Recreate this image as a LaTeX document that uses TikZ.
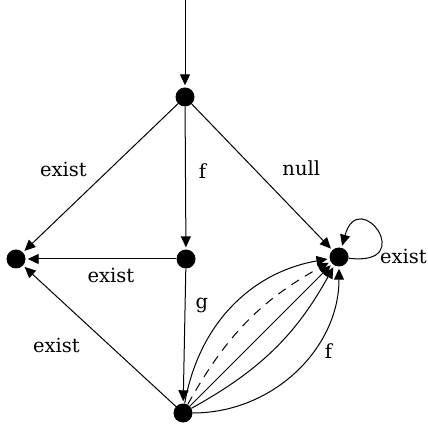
\documentclass[tikz,border=0pt]{standalone}
\usepackage{fontspec}
\setmainfont{DejaVu Serif}
\usetikzlibrary{arrows.meta}

\tikzset{
  dot/.style={circle, fill=black, inner sep=0pt, minimum size=19pt},
  arr/.style={-{Triangle[length=11pt,width=10pt]}, line width=1pt, shorten >=2pt},
  lbl/.style={font=\fontsize{19.5}{23}\selectfont, inner sep=3pt},
}

\begin{document}
\begin{tikzpicture}[x=1pt, y=-1pt]
  \useasboundingbox (0,0) rectangle (428,427);

  % Vertices
  \coordinate (start) at (185,0);
  \node[dot] (top) at (185,97) {};
  \node[dot] (left) at (16,259) {};
  \node[dot] (mid) at (186,259) {};
  \node[dot] (right) at (339,257) {};
  \node[dot] (bot) at (183,413) {};

  % Edges
  \draw[arr] (start) -- (top);
  \draw[arr] (top) -- node[lbl, pos=0.45, above left, xshift=-18pt, yshift=-10pt] {exist} (left);
  \draw[arr] (top) -- node[lbl, pos=0.45, right, xshift=10pt] {f} (mid);
  \draw[arr] (top) -- node[lbl, pos=0.45, above right, xshift=24pt, yshift=-10pt] {null} (right);
  \draw[arr] (mid) -- node[lbl, midway, below, xshift=10pt, yshift=-6pt] {exist} (left);
  \draw[arr] (mid) -- node[lbl, pos=0.27, right, xshift=7pt] {g} (bot);
  \draw[arr] (bot) -- node[lbl, pos=0.62, below left, xshift=2pt, yshift=-16pt] {exist} (left);

  % Edges from bot to right
  \draw[arr] (bot) to[bend left=35] (right);
  \draw[arr, dashed, dash pattern=on 9pt off 7pt] (bot) to[bend left=16] (right);
  \draw[arr] (bot) -- (right);
  \draw[arr] (bot) to[bend right=16] (right);
  \draw[arr] (bot) to[bend right=45] node[lbl, pos=0.62, right, xshift=8pt, yshift=-2pt] {f} (right);

  % Loop
  \draw[arr] (right) .. controls +(80,10) and +(20,-72) .. (right)
    node[lbl, pos=0.2, right, xshift=0pt, yshift=-2pt] {exist};
\end{tikzpicture}
\end{document}
